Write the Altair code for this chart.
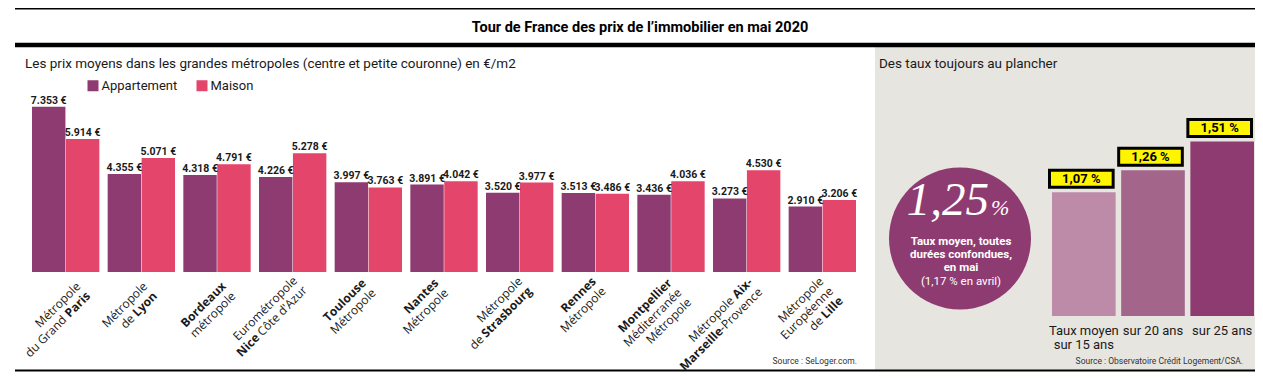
import altair as alt
import pandas as pd

# ---------------- data ----------------
metropoles = ["Grand Paris", "Lyon", "Bordeaux", "Nice Côte d'Azur", "Toulouse", "Nantes",
              "Strasbourg", "Rennes", "Montpellier", "Aix-Marseille-Provence", "Lille"]
appartement = [7353, 4355, 4318, 4226, 3997, 3891, 3520, 3513, 3436, 3273, 2910]
maison = [5914, 5071, 4791, 5278, 3763, 4042, 3977, 3486, 4036, 4530, 3206]
types_bien = ["Appartement", "Maison"]

# axis labels: lines -> segments (text, bold)
labels_metropoles = [
    [[("Métropole", False)], [("du Grand", False), (" Paris", True)]],
    [[("Métropole", False)], [("de", False), (" Lyon", True)]],
    [[("Bordeaux", True)], [("métropole", False)]],
    [[("Eurométropole", False)], [("Nice", True), (" Côte d'Azur", False)]],
    [[("Toulouse", True)], [("Métropole", False)]],
    [[("Nantes", True)], [("Métropole", False)]],
    [[("Métropole", False)], [("de", False), (" Strasbourg", True)]],
    [[("Rennes", True)], [("Métropole", False)]],
    [[("Montpellier", True)], [("Méditerranée", False)], [("Métropole", False)]],
    [[("Métropole", False), (" Aix-", True)], [("Marseille", True), ("-Provence", False)]],
    [[("Métropole", False)], [("Européenne", False)], [("de", False), (" Lille", True)]],
]

durees = ["Taux moyen\nsur 15 ans", "sur 20 ans", "sur 25 ans"]
taux = [1.07, 1.26, 1.51]
taux_moyen = [1.25]
taux_avril = [1.17]

titre = "Tour de France des prix de l’immobilier en mai 2020"
sous_titre_g = "Les prix moyens dans les grandes métropoles (centre et petite couronne) en €/m2"
sous_titre_d = "Des taux toujours au plancher"
source_g = "Source : SeLoger.com."
source_d = "Source : Observatoire Crédit Logement/CSA."
texte_cercle = "Taux moyen, toutes\ndurées confondues,\nen mai"

# ---------------- layout / style ----------------
OFF = 8
def px(v):
    return v - OFF

W, H = 1247, 364
FONT = "Roboto"
NARROW = "Liberation Sans Narrow, Roboto"
LBL_FONT = "Open Sans"
LBL_SIZE = 12
LINE_H = 13.8
PURPLE = "#8e3b72"
PINK = "#e4456b"
RIGHT_COLORS = ["#bd8aa7", "#a4658b", "#8e3b72"]
YELLOW = "#fff500"
GREY_BG = "#e7e5e0"
INK = "#1a1a1a"
CIRCLE_D = 142

# per-label shift (along text, perpendicular) in px
label_shift = [(9.5, 12.5), (3.3, 6.3), (5.3, 8.3), (6.3, 1.2), (-0.3, -1.9), (-2.5, -4.1),
               (4.4, 0.3), (3.0, -1.0), (2.0, 0.3), (6.0, 3.3), (3.3, -0.7)]

W_REG = {' ': 0.26, 'a': 0.556, 'b': 0.613, 'c': 0.476, 'd': 0.613, 'e': 0.561, 'f': 0.339,
         'g': 0.548, 'h': 0.614, 'i': 0.253, 'l': 0.253, 'm': 0.93, 'n': 0.614, 'o': 0.604,
         'p': 0.613, 'r': 0.408, 's': 0.477, 't': 0.353, 'u': 0.614, 'v': 0.501, 'x': 0.524,
         'z': 0.468, 'A': 0.633, 'C': 0.631, 'P': 0.586, "'": 0.177, '-': 0.322, 'é': 0.561,
         'ô': 0.604}
W_BOLD = {' ': 0.26, 'a': 0.6, 'b': 0.635, 'e': 0.602, 'g': 0.555, 'i': 0.306, 'l': 0.306,
          'n': 0.653, 'o': 0.624, 'r': 0.448, 's': 0.507, 't': 0.417, 'u': 0.653, 'x': 0.578,
          'y': 0.563, 'A': 0.713, 'L': 0.551, 'P': 0.669, 'S': 0.549, '-': 0.322}


def text_w(s, bold):
    tab = W_BOLD if bold else W_REG
    return sum(tab.get(c, 0.56) for c in s) * LBL_SIZE


one = pd.DataFrame({"k": [0]})

# ---------------- left panel ----------------
df_prix = pd.DataFrame({
    "metropole": metropoles * 2,
    "type": [types_bien[0]] * len(metropoles) + [types_bien[1]] * len(metropoles),
    "prix": appartement + maison,
})
df_prix["label"] = df_prix["prix"].map(lambda v: f"{v:,}".replace(",", ".") + " €")

x_left = alt.Scale(domain=metropoles, range=[px(32), px(856)], paddingInner=0.11, paddingOuter=0)
xo_left = alt.Scale(domain=types_bien, paddingInner=0.015, paddingOuter=0)
y_left = alt.Scale(domain=[0, 7500], range=[px(272), px(272) - 7500 * 0.02248], nice=False, zero=True)

bars = alt.Chart(df_prix).mark_bar().encode(
    x=alt.X("metropole:N", scale=x_left, axis=None),
    xOffset=alt.XOffset("type:N", scale=xo_left),
    y=alt.Y("prix:Q", scale=y_left, axis=None),
    color=alt.Color("type:N", scale=alt.Scale(domain=types_bien, range=[PURPLE, PINK]),
                    legend=alt.Legend(orient="none", legendX=px(86.5), legendY=px(79),
                                      direction="horizontal", title=None, symbolType="square",
                                      symbolSize=121, symbolStrokeWidth=0, symbolOpacity=1,
                                      labelFont=FONT, labelFontSize=13, labelColor=INK,
                                      labelOffset=2, columnPadding=18, padding=0)),
)

values = alt.Chart(df_prix).mark_text(font=NARROW, fontSize=10.5, fontWeight="bold",
                                      baseline="alphabetic", dy=-3, color=INK).encode(
    x=alt.X("metropole:N", scale=x_left, axis=None),
    xOffset=alt.XOffset("type:N", scale=xo_left),
    y=alt.Y("prix:Q", scale=y_left, axis=None),
    text="label:N",
)

label_layers = []
for i, (m, lines) in enumerate(zip(metropoles, labels_metropoles)):
    along, perp = label_shift[i]
    for j, line in enumerate(lines):
        cum = 0.0
        for txt, bold in reversed(line):
            seg = pd.DataFrame({"metropole": [m], "t": [txt.strip()]})
            label_layers.append(
                alt.Chart(seg).mark_text(
                    angle=315, align="right", baseline="alphabetic",
                    dx=along - cum, dy=perp + j * LINE_H,
                    font=LBL_FONT, fontSize=LBL_SIZE,
                    fontWeight="bold" if bold else "normal", color=INK,
                ).encode(
                    x=alt.X("metropole:N", scale=x_left, axis=None),
                    y=alt.value(px(285)),
                    text="t:N",
                )
            )
            cum += text_w(txt, bold)

left = alt.layer(bars, values, *label_layers)

# ---------------- right panel ----------------
df_taux = pd.DataFrame({"duree": durees, "taux": taux})
df_taux["label"] = df_taux["taux"].map(lambda v: f"{v:.2f}".replace(".", ",") + " %")

x_right = alt.Scale(domain=durees, range=[px(1052), px(1254)], paddingInner=0.08, paddingOuter=0)
y_right = alt.Scale(domain=[0, 1.6], range=[px(316), px(316) - 1.6 * 115.6], nice=False, zero=True)

rbars = alt.Chart(df_taux).mark_bar().encode(
    x=alt.X("duree:N", scale=x_right, axis=None),
    y=alt.Y("taux:Q", scale=y_right, axis=None),
    color=alt.Color("duree:N", scale=alt.Scale(domain=durees, range=RIGHT_COLORS), legend=None),
)
boxes = alt.Chart(df_taux).mark_rect(fill=YELLOW, stroke="black", strokeWidth=3,
                                     yOffset=-5, y2Offset=-22, xOffset=-2.5).encode(
    x=alt.X("duree:N", scale=x_right, axis=None),
    y=alt.Y("taux:Q", scale=y_right, axis=None),
    y2=alt.Y2("taux:Q"),
)
box_text = alt.Chart(df_taux).mark_text(font=FONT, fontSize=13, fontWeight="bold",
                                        baseline="middle", dy=-13.5, dx=-2.5, color="black").encode(
    x=alt.X("duree:N", scale=x_right, axis=None),
    y=alt.Y("taux:Q", scale=y_right, axis=None),
    text="label:N",
)
bottom_labels = alt.Chart(df_taux).mark_text(font=FONT, fontSize=13, baseline="top",
                                             lineBreak="\n", lineHeight=14.3, color=INK).encode(
    x=alt.X("duree:N", scale=x_right, axis=None),
    y=alt.value(px(325)),
    text="duree:N",
)
right = alt.layer(rbars, boxes, box_text, bottom_labels)

# ---------------- circle ----------------
df_moy = pd.DataFrame({"v": taux_moyen, "a": taux_avril})
df_moy["lab"] = df_moy["v"].map(lambda v: f"{v:.2f}".replace(".", ","))
df_moy["avr"] = df_moy["a"].map(lambda v: "(" + f"{v:.2f}".replace(".", ",") + " % en avril)")

circle = alt.Chart(df_moy).mark_circle(size=CIRCLE_D * CIRCLE_D, color=PURPLE, opacity=1).encode(
    x=alt.value(px(960)), y=alt.value(px(238.5)))
big = alt.Chart(df_moy).mark_text(font="Liberation Serif", fontStyle="italic", fontSize=47,
                                  align="right", baseline="alphabetic", color="white").encode(
    x=alt.value(px(989)), y=alt.value(px(214.5)), text="lab:N")
pct = alt.Chart(df_moy).mark_text(font="Liberation Serif", fontStyle="italic", fontSize=22,
                                  align="left", baseline="alphabetic", color="white").encode(
    x=alt.value(px(991)), y=alt.value(px(214.5)), text=alt.value("%"))
circ_txt = alt.Chart(one).mark_text(font=FONT, fontSize=11.5, fontWeight="bold", baseline="top",
                                    lineBreak="\n", lineHeight=13.3, color="white").encode(
    x=alt.value(px(961)), y=alt.value(px(235.5)), text=alt.value(texte_cercle))
avril = alt.Chart(df_moy).mark_text(font=FONT, fontSize=11.5, baseline="alphabetic",
                                    color="white").encode(
    x=alt.value(px(961)), y=alt.value(px(285)), text="avr:N")

# ---------------- frame / annotations ----------------
bg = alt.Chart(one).mark_rect(color=GREY_BG).encode(
    x=alt.value(px(875)), x2=alt.value(W), y=alt.value(px(47)), y2=alt.value(362))
rule_top = alt.Chart(one).mark_rule(color="black", strokeWidth=1.5).encode(
    x=alt.value(px(15)), x2=alt.value(W), y=alt.value(0.75))
rule_thick = alt.Chart(one).mark_rule(color="black", strokeWidth=4.5).encode(
    x=alt.value(px(15)), x2=alt.value(W), y=alt.value(px(45)))
rule_bottom = alt.Chart(one).mark_rule(color="black", strokeWidth=2).encode(
    x=alt.value(px(15)), x2=alt.value(W), y=alt.value(362.5))
title = alt.Chart(one).mark_text(font=FONT, fontSize=14.5, fontWeight="bold", align="center",
                                 baseline="alphabetic", color="black").encode(
    x=alt.value(px(640)), y=alt.value(px(32)), text=alt.value(titre))
sub_g = alt.Chart(one).mark_text(font=FONT, fontSize=13.5, align="left", baseline="alphabetic",
                                 color=INK).encode(
    x=alt.value(px(25)), y=alt.value(px(68)), text=alt.value(sous_titre_g))
sub_d = alt.Chart(one).mark_text(font=FONT, fontSize=13.5, align="left", baseline="alphabetic",
                                 color=INK).encode(
    x=alt.value(px(879)), y=alt.value(px(68)), text=alt.value(sous_titre_d))
src_g = alt.Chart(one).mark_text(font=FONT, fontSize=8.5, align="right", baseline="alphabetic",
                                 color="#333333").encode(
    x=alt.value(px(857)), y=alt.value(px(364)), text=alt.value(source_g))
src_d = alt.Chart(one).mark_text(font=FONT, fontSize=8.5, align="right", baseline="alphabetic",
                                 color="#333333").encode(
    x=alt.value(px(1243)), y=alt.value(px(364)), text=alt.value(source_d))

chart = alt.layer(
    bg, rule_top, rule_thick, rule_bottom, title, sub_g, sub_d, src_g, src_d,
    left, circle, big, pct, circ_txt, avril, right,
).resolve_scale(
    x="independent", y="independent", color="independent"
).properties(
    width=W, height=H, autosize=alt.AutoSizeParams(type="none"), padding=0,
).configure_view(stroke=None)

chart.save("out.html", embed_options={"renderer": "svg", "actions": False})
